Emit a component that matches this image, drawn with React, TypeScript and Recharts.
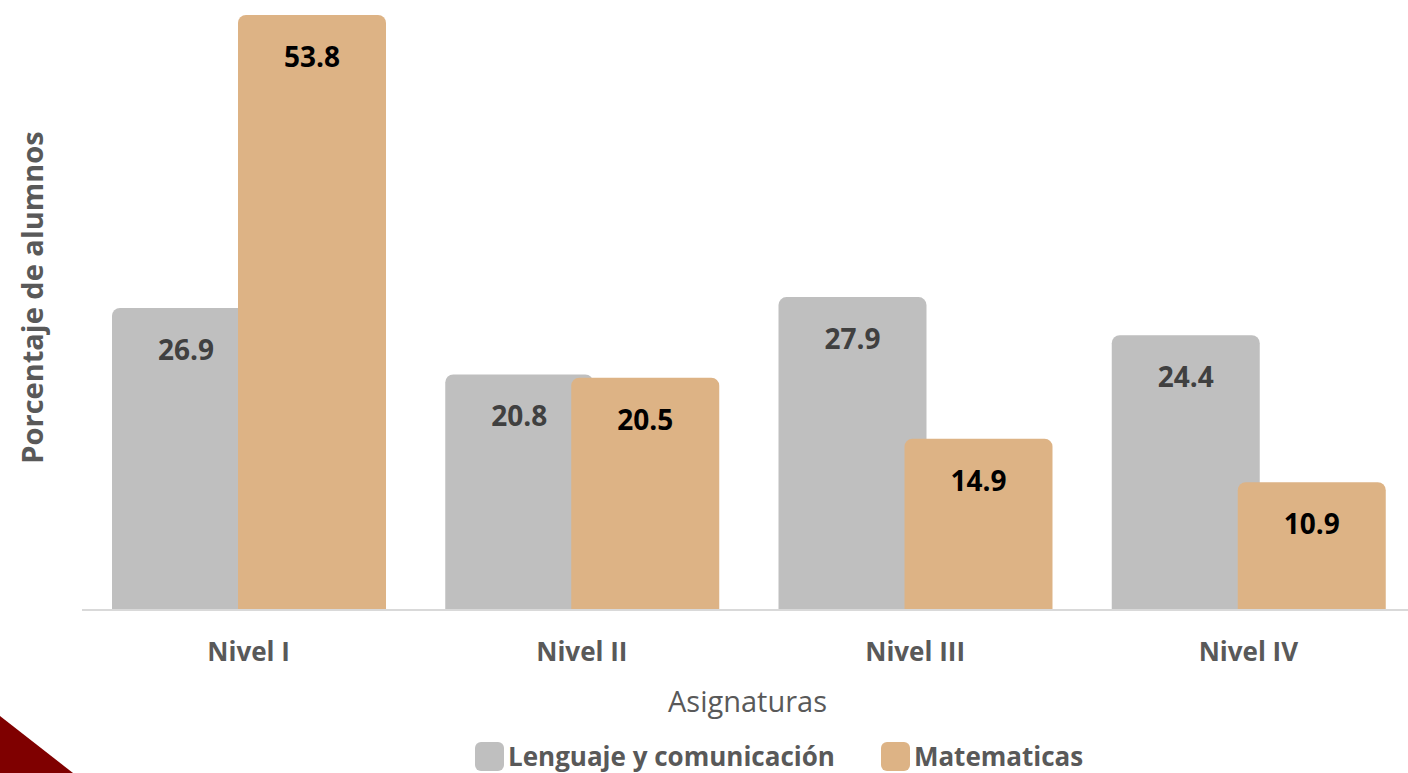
import React from 'react';
import { BarChart, Bar, XAxis, YAxis, LabelList, Legend, Rectangle } from 'recharts';

const categories = ['Nivel I', 'Nivel II', 'Nivel III', 'Nivel IV'];
const lenguaje = [26.9, 20.8, 27.9, 24.4];
const matematicas = [53.8, 20.5, 14.9, 10.9];
const seriesNames = ['Lenguaje y comunicación', 'Matematicas'];
const xTitle = 'Asignaturas';
const yTitle = 'Porcentaje de alumnos';

const GRAY = '#BFBFBF';
const ORANGE = '#DDB385';
const TEXT = '#595959';
const FONT = '"Open Sans", "DejaVu Sans", sans-serif';

const data = categories.map((c, i) => ({ name: c, lenguaje: lenguaje[i], matematicas: matematicas[i] }));

const BarShape = (props: any) => {
  const bg = props.background;
  const bottom = bg && typeof bg.y === 'number' ? bg.y + bg.height : props.y + props.height + 9;
  return (
    <Rectangle
      x={props.x}
      y={props.y}
      width={props.width}
      height={bottom - props.y}
      fill={props.fill}
      radius={[8, 8, 0, 0]}
    />
  );
};

const makeValueLabel = (color: string) => (props: any) => {
  const { x, y, width, value } = props;
  return (
    <text
      x={x + width / 2}
      y={y + 41}
      textAnchor="middle"
      dominantBaseline="central"
      fill={color}
      fontFamily={FONT}
      fontWeight={700}
      fontSize={28}
    >
      {value}
    </text>
  );
};

const Tick = (props: any) => {
  const { x, y, payload } = props;
  return (
    <text
      x={x}
      y={y + 41}
      textAnchor="middle"
      dominantBaseline="central"
      fill={TEXT}
      fontFamily={FONT}
      fontWeight={700}
      fontSize={26}
    >
      {payload.value}
    </text>
  );
};

const XTitle = (props: any) => {
  const vb = props.viewBox || { x: 82, y: 610, width: 1333, height: 60 };
  return (
    <text
      x={vb.x + vb.width / 2 - 1}
      y={vb.y + 90}
      textAnchor="middle"
      dominantBaseline="central"
      fill={TEXT}
      fontFamily={FONT}
      fontSize={29}
    >
      {xTitle}
    </text>
  );
};

const YTitle = (props: any) => {
  const vb = props.viewBox || { x: 0, y: 15, width: 82, height: 595 };
  const cx = 31;
  const cy = vb.y + vb.height / 2 - 15;
  return (
    <text
      x={cx}
      y={cy}
      transform={`rotate(-90, ${cx}, ${cy})`}
      textAnchor="middle"
      dominantBaseline="central"
      fill={TEXT}
      fontFamily={FONT}
      fontWeight={700}
      fontSize={29}
    >
      {yTitle}
    </text>
  );
};

const LegendContent = (props: any) => {
  const payload = props.payload || [];
  return (
    <div style={{ display: 'flex', alignItems: 'center', fontFamily: FONT, height: 29 }}>
      {payload.map((p: any, i: number) => (
        <div key={i} style={{ display: 'flex', alignItems: 'center', marginRight: 46, height: 29 }}>
          <div style={{ width: 29, height: 29, borderRadius: 6, background: p.color, marginRight: 4 }} />
          <span style={{ fontWeight: 700, fontSize: 26, color: TEXT, whiteSpace: 'nowrap', lineHeight: '29px' }}>
            {p.value}
          </span>
        </div>
      ))}
    </div>
  );
};

export default function App() {
  return (
    <div style={{ position: 'absolute', left: 0, top: 0, width: 1408, height: 773, overflow: 'hidden', background: '#FFFFFF' }}>
      <div
        style={{
          position: 'absolute',
          left: 0,
          bottom: 0,
          width: 0,
          height: 0,
          borderLeft: '73px solid #7F0000',
          borderTop: '57px solid transparent',
        }}
      />
      <BarChart
        width={1420}
        height={773}
        data={data}
        margin={{ top: 15, right: 5, left: 0, bottom: 103 }}
        barSize={148}
        barGap={-22}
      >
        <XAxis
          dataKey="name"
          axisLine={{ stroke: '#D9D9D9', strokeWidth: 2 }}
          tickLine={false}
          tickSize={0}
          tickMargin={0}
          height={60}
          interval={0}
          tick={<Tick />}
          label={{ content: <XTitle /> } as any}
        />
        <YAxis
          width={82}
          domain={[-0.83, 'dataMax']}
          tick={false}
          axisLine={false}
          tickLine={false}
          label={{ content: <YTitle /> } as any}
        />
        <Legend
          layout="horizontal"
          verticalAlign="middle"
          align="center"
          wrapperStyle={{ position: 'absolute', top: 742, left: 475, width: 'auto', height: 29, margin: 0, padding: 0 }}
          content={<LegendContent />}
        />
        <Bar dataKey="lenguaje" name={seriesNames[0]} fill={GRAY} shape={BarShape} isAnimationActive={false}>
          <LabelList dataKey="lenguaje" content={makeValueLabel('#404040')} />
        </Bar>
        <Bar dataKey="matematicas" name={seriesNames[1]} fill={ORANGE} shape={BarShape} isAnimationActive={false}>
          <LabelList dataKey="matematicas" content={makeValueLabel('#000000')} />
        </Bar>
      </BarChart>
    </div>
  );
}
